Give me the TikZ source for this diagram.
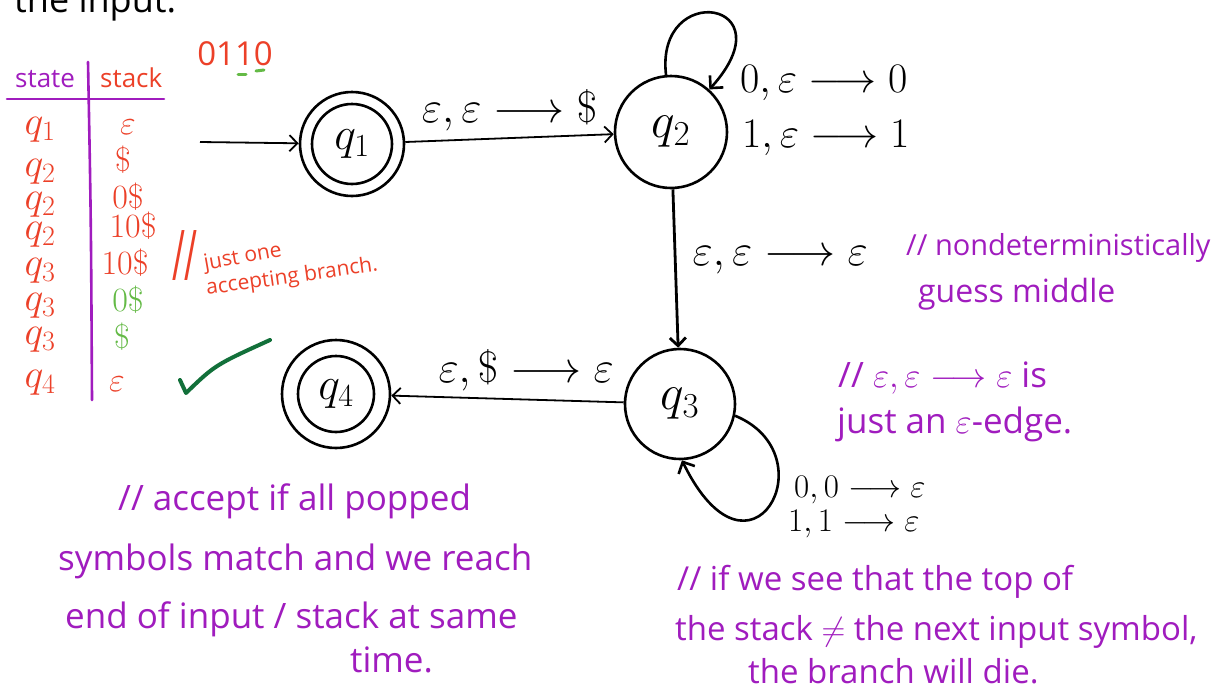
\RequirePackage{fix-cm}
\documentclass[tikz,border=0pt]{standalone}
\usepackage{graphicx}
\usepackage{fontspec}
\newfontfamily\handfont{Open Sans}
\usetikzlibrary{arrows.meta}
\definecolor{hpurple}{RGB}{160,28,190}
\definecolor{hred}{RGB}{236,64,40}
\definecolor{hgreen}{RGB}{100,186,70}
\definecolor{hdgreen}{RGB}{18,112,58}
\newcommand{\fsz}[1]{\fontsize{#1}{#1}\selectfont}
\begin{document}
\begin{tikzpicture}[x=1pt,y=-1pt,
  state/.style={circle,draw,line width=2.6pt,inner sep=0pt,font=\fsz{46}},
  ring/.style={line width=2.6pt},
  edge/.style={line width=1.8pt,-{Straight Barb[length=8pt,width=16pt]}},
  loopedge/.style={line width=2.6pt,-{Straight Barb[length=9pt,width=18pt]}},
  tlabel/.style={font=\fsz{44},inner sep=0pt},
  looplabel/.style={font=\fsz{42},inner sep=0pt,anchor=west},
  note/.style={text=hpurple,font=\handfont\fsz{34},inner sep=0pt,anchor=base west},
  rednote/.style={text=hred,font=\handfont\fsz{21},inner sep=0pt,anchor=base west},
  tabq/.style={text=hred,font=\fsz{40},inner sep=0pt},
  tabs/.style={font=\fsz{34},inner sep=0pt},
  tline/.style={draw=hpurple,line width=2.6pt,line cap=round}
]
\clip (0,0) rectangle (1217,686);
\fill[white] (0,0) rectangle (1217,686);

% heading (cut off at top)
\node[font=\handfont\fsz{36},anchor=base west,inner sep=0pt] (head) at (14,12) {the input:};

% input string
\node[text=hred,font=\handfont\fsz{33},inner sep=0pt] (input) at (235,54) {0110};
\draw[hgreen,line width=3pt,line cap=round] (238,74) -- (246,74);
\draw[hgreen,line width=3pt,line cap=round] (256,71) -- (264,70);

% table
\node[text=hpurple,font=\handfont\fsz{26},anchor=base west,inner sep=0pt] (hstate) at (15,87) {state};
\node[text=hred,font=\handfont\fsz{26},anchor=base west,inner sep=0pt] (hstack) at (100,87) {stack};
\draw[tline] (7,99) -- (164,99);
\draw[tline] (88,62) .. controls (91,220) .. (92,400);

\node[tabq] (r1) at (40,130) {$q_1$};
\node[tabq] (r2) at (40,172) {$q_2$};
\node[tabq] (r3) at (40,205) {$q_2$};
\node[tabq] (r4) at (40,235) {$q_2$};
\node[tabq] (r5) at (40,271) {$q_3$};
\node[tabq] (r6) at (40,306) {$q_3$};
\node[tabq] (r7) at (40,340) {$q_3$};
\node[tabq] (r8) at (40,383) {$q_4$};

\node[tabs,text=hred] (s1) at (128,127) {$\varepsilon$};
\node[tabs,text=hred] (s2) at (123,160) {$\$$};
\node[tabs,text=hred] (s3) at (128,197) {$0\$$};
\node[tabs,text=hred] (s4) at (133,226) {$10\$$};
\node[tabs,text=hred] (s5) at (125,263) {$10\$$};
\node[tabs,text=hgreen] (s6) at (128,300) {$0\$$};
\node[tabs,text=hgreen] (s7) at (122,337) {$\$$};
\node[tabs,text=hred] (s8) at (117,384) {$\varepsilon$};

% red note
\node[text=hred,font=\handfont\fsz{70},inner sep=0pt] (slr) at (185,256) {\scalebox{0.5}[1]{//}};
\node[rednote,rotate=10] (n1) at (205,270) {just one};
\node[rednote,rotate=8] (n2) at (207,295) {accepting branch.};

% check mark
\draw[hdgreen,line width=4pt,line cap=round,line join=round] (180,380) -- (186,393) .. controls (215,365) .. (270,340);

% states
\node[state,minimum size=104pt] (q1) at (352,144) {$q_1$};
\draw[ring] (q1.center) circle[radius=40];
\node[state,minimum size=112pt,font=\fsz{50}] (q2) at (671,132) {$q_2$};
\node[state,minimum size=110pt,font=\fsz{50}] (q3) at (680,404) {$q_3$};
\node[state,minimum size=108pt] (q4) at (336,394) {$q_4$};
\draw[ring] (q4.center) circle[radius=38];

% transitions
\coordinate (start) at (200,142);
\draw[edge] (start) -- (q1);
\draw[edge] (q1) -- node[tlabel,above=6pt,pos=0.5] {$\varepsilon{,}\,\varepsilon\longrightarrow\$$} (q2);
\draw[edge,line width=2.8pt] (q2) -- node[tlabel,right=16pt,pos=0.45] {$\varepsilon{,}\,\varepsilon\longrightarrow\varepsilon$} (q3);
\draw[edge] (q3) -- node[tlabel,above=8pt,pos=0.42] {$\varepsilon{,}\,\$\longrightarrow\varepsilon$} (q4);
\draw[loopedge] (q2.95) .. controls (655,-20) and (790,0) .. (q2.48);
\draw[loopedge] (q3.-12) .. controls (830,455) and (750,600) .. (q3.-88);

\node[looplabel] (l20) at (740,83) {$0{,}\,\varepsilon\longrightarrow 0$};
\node[looplabel] (l21) at (742,138) {$1{,}\,\varepsilon\longrightarrow 1$};
\node[looplabel,font=\fsz{33}] (l30) at (794,490) {$0{,}\,0\longrightarrow\varepsilon$};
\node[looplabel,font=\fsz{33}] (l31) at (788,524) {$1{,}\,1\longrightarrow\varepsilon$};

% purple notes
\node[note,font=\handfont\fsz{29}] (c1) at (906,255) {// nondeterministically};
\node[note,font=\handfont\fsz{32}] (c2) at (918,302) {guess middle};
\node[note,font=\handfont\fsz{35}] (d1) at (838,387) {// $\varepsilon{,}\,\varepsilon\longrightarrow\varepsilon$ is};
\node[note,font=\handfont\fsz{35}] (d2) at (837,433) {just an $\varepsilon$-edge.};

\node[note,font=\handfont\fsz{35}] (a1) at (118,510) {// accept if all popped};
\node[note,font=\handfont\fsz{35}] (a2) at (58,570) {symbols match and we reach};
\node[note,font=\handfont\fsz{35}] (a3) at (65,628) {end of input / stack at same};
\node[note,font=\handfont\fsz{35}] (a4) at (350,672) {time.};

\node[note,font=\handfont\fsz{33}] (b1) at (677,590) {// if we see that the top of};
\node[note,font=\handfont\fsz{33}] (b2) at (675,640) {the stack $\neq$ the next input symbol,};
\node[note,font=\handfont\fsz{33}] (b3) at (748,683) {the branch will die.};
\end{tikzpicture}
\end{document}
